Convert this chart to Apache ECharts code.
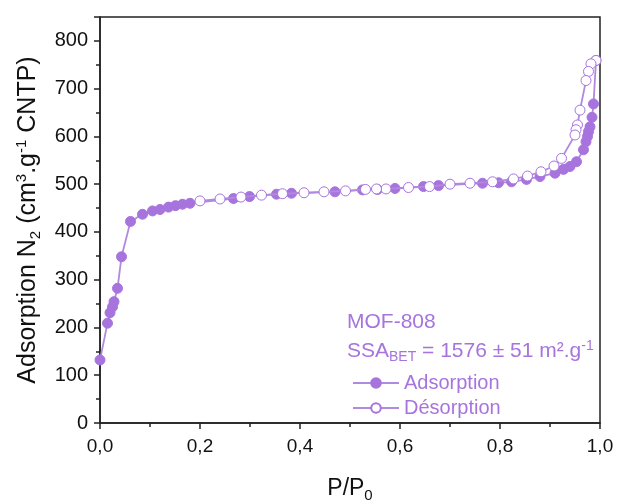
<!DOCTYPE html>
<html>
<head>
<meta charset="utf-8">
<script src="https://cdn.jsdelivr.net/npm/echarts@6/dist/echarts.min.js"></script>
<style>html,body{margin:0;padding:0;background:#fff}#c{width:618px;height:500px}</style>
</head>
<body>
<div id="c"></div>
<script>
const adsorption = [
  [0.0,132],[0.015,209],[0.02,231],[0.025,243],[0.028,254],[0.035,282],[0.043,348],[0.061,422],
  [0.085,437],[0.105,444],[0.12,447],[0.137,452],[0.151,455],[0.165,458],[0.18,460],
  [0.267,470],[0.299,474],[0.353,479],[0.383,481],[0.47,484],[0.525,488],[0.555,489],
  [0.59,491],[0.647,495],[0.677,497],[0.765,502],[0.797,503],[0.823,505],[0.853,510],
  [0.88,516],[0.91,523],[0.927,531],[0.94,537],[0.953,547],[0.967,572],[0.972,589],
  [0.975,600],[0.977,610],[0.98,620],[0.984,640],[0.987,668],[0.992,759]
];
const desorption = [
  [0.992,759],[0.982,752],[0.977,736],[0.972,717],[0.96,655],[0.955,624],[0.952,614],[0.95,603],
  [0.923,554],[0.908,538],[0.882,526],[0.855,517],[0.827,511],[0.785,505],[0.74,502],[0.7,500],
  [0.659,495],[0.617,493],[0.572,490],[0.553,490],[0.531,489],[0.491,486],[0.448,484],
  [0.408,482],[0.365,480],[0.323,477],[0.282,473],[0.24,469],[0.2,465]
];
const seriesNames = ['Adsorption','Désorption'];
const sampleName = 'MOF-808';

const purple = '#a774dd';
const lineCol = '#b08ade';
const font = 'Arial, "Liberation Sans", sans-serif';
const chart = echarts.init(document.getElementById('c'));
chart.setOption({
  animation: false,
  grid: {left: 100, right: 18, top: 17, bottom: 77, outerBoundsMode: 'none', containLabel: false,
         show: true, borderColor: '#222', borderWidth: 1.5, backgroundColor: 'transparent'},
  xAxis: {
    type: 'value', min: 0, max: 1, interval: 0.2,
    name: '{a|P/P}{s|0}', nameLocation: 'middle', nameGap: 51,
    nameTextStyle: {rich: {a: {fontSize: 23, fontFamily: font, color: '#111'}, s: {fontSize: 15, fontFamily: font, color: '#111', padding: [14,0,0,0]}}},
    axisLine: {show: true, lineStyle: {color: '#222', width: 1.5}},
    axisTick: {show: true, inside: false, length: 6, lineStyle: {color: '#222', width: 1.5}},
    minorTick: {show: true, splitNumber: 2, length: 4, lineStyle: {color: '#222', width: 1.5}},
    splitLine: {show: false},
    axisLabel: {fontSize: 19, fontFamily: font, color: '#111', margin: 14, formatter: v => v.toFixed(1).replace('.', ',')}
  },
  yAxis: {
    type: 'value', min: 0, max: 850, interval: 100,
    name: '{a|Adsorption N}{s|2}{a| (cm}{p|3}{a|.g}{p|-1}{a| CNTP)}', nameLocation: 'middle', nameGap: 57, nameRotate: 90,
    nameTextStyle: {rich: {
      a: {fontSize: 25, fontFamily: font, color: '#111'},
      s: {fontSize: 15, fontFamily: font, color: '#111', padding: [14,0,0,0]},
      p: {fontSize: 15, fontFamily: font, color: '#111', padding: [0,0,14,0]}
    }},
    axisLine: {show: true, lineStyle: {color: '#222', width: 1.5}},
    axisTick: {show: true, length: 6, lineStyle: {color: '#222', width: 1.5}},
    minorTick: {show: true, splitNumber: 2, length: 4, lineStyle: {color: '#222', width: 1.5}},
    splitLine: {show: false},
    axisLabel: {fontSize: 20, fontFamily: font, color: '#111', margin: 12, showMaxLabel: false}
  },
  legend: {
    left: 347, top: 368, orient: 'vertical', itemWidth: 46, itemHeight: 12, itemGap: 5,
    textStyle: {fontSize: 20, fontFamily: font, color: purple},
    data: seriesNames
  },
  graphic: [
    {type: 'text', left: 347, top: 312, style: {text: sampleName, font: '21px ' + font, fill: purple}},
    {type: 'text', left: 347, top: 339, style: {
      text: '{a|SSA}{s|BET}{a| = 1576 ± 51 m².g}{p|-1}',
      rich: {
        a: {fontSize: 21, fontFamily: font, fill: purple, color: purple},
        s: {fontSize: 14, fontFamily: font, fill: purple, color: purple, padding: [12,0,0,0]},
        p: {fontSize: 14, fontFamily: font, fill: purple, color: purple, padding: [0,0,10,0]}
      }
    }}
  ],
  series: [
    {name: seriesNames[0], type: 'line', data: adsorption, symbol: 'circle', symbolSize: 10,
     lineStyle: {color: lineCol, width: 1.8}, itemStyle: {color: purple, borderColor: purple, borderWidth: 1}, z: 2},
    {name: seriesNames[1], type: 'line', data: desorption, symbol: 'circle', symbolSize: 10,
     lineStyle: {color: lineCol, width: 1.8}, itemStyle: {color: '#fff', borderColor: purple, borderWidth: 1}, z: 3}
  ]
});
</script>
</body>
</html>
